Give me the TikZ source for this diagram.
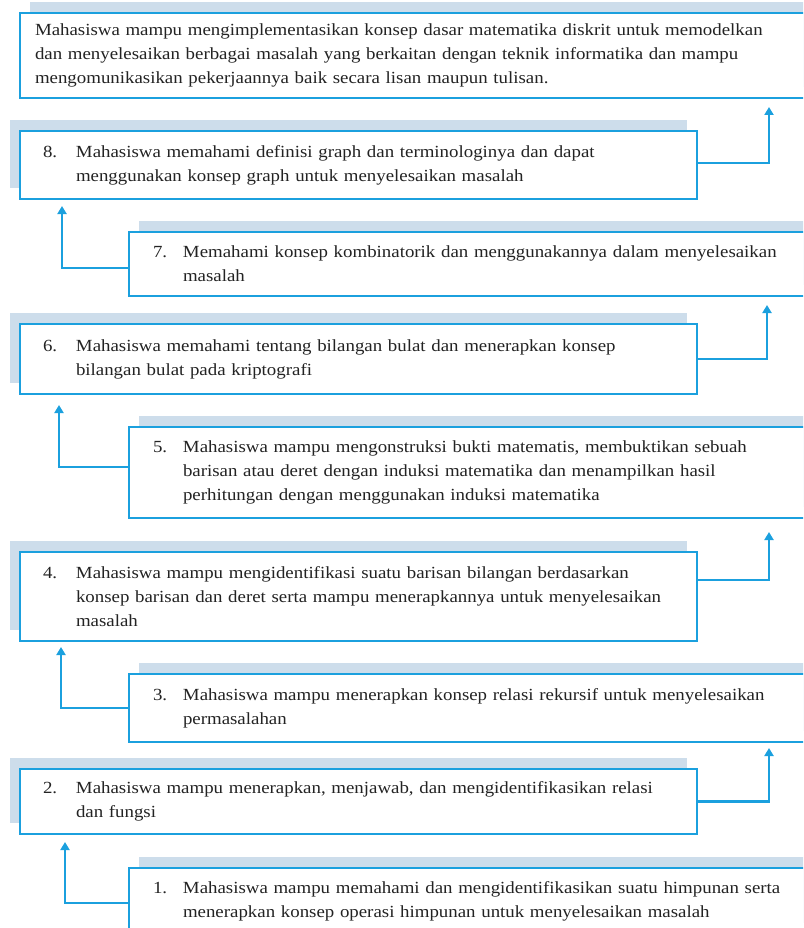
\documentclass[tikz,border=0pt]{standalone}
\usepackage{fontspec}
\setmainfont{Liberation Serif}[FakeStretch=1.11]
\usetikzlibrary{arrows.meta,shadows}
\definecolor{bordc}{RGB}{27,160,222}
\definecolor{shadc}{RGB}{205,221,235}
\definecolor{txtc}{RGB}{35,35,35}
\tikzset{
  box/.style={draw=bordc, line width=2.8pt, fill=white, anchor=north west,
    outer sep=0pt, inner ysep=0pt, align=left, text=txtc,
    font=\fontsize{17}{24}\selectfont},
  lbox/.style={box, general shadow={shadow xshift=-10pt, shadow yshift=11pt, fill=shadc},
    minimum width=677pt, text width=631pt, inner xsep=23pt},
  rbox/.style={box, general shadow={shadow xshift=10pt, shadow yshift=11pt, fill=shadc},
    minimum width=700pt, text width=652pt, inner xsep=24pt},
  tbox/.style={box, general shadow={shadow xshift=10pt, shadow yshift=11pt, fill=shadc},
    minimum width=800pt, text width=770pt, inner xsep=15pt},
  conn/.style={draw=bordc, line width=2.8pt, -{Triangle[width=9pt,length=8pt]}},
}
\newcommand{\lnum}[1]{\makebox[33pt][l]{#1}}
\newcommand{\lind}{\hspace*{33pt}}
\newcommand{\rnum}[1]{\makebox[30pt][l]{#1}}
\newcommand{\rind}{\hspace*{30pt}}
\begin{document}
\begin{tikzpicture}[x=1pt,y=-1pt]
\useasboundingbox (0,0) rectangle (803,928);
\clip (0,0) rectangle (803,928);

\node[tbox, minimum height=85pt] (T) at (20,13)
 {Mahasiswa mampu mengimplementasikan konsep dasar matematika diskrit untuk memodelkan\\
  dan menyelesaikan berbagai masalah yang berkaitan dengan teknik informatika dan mampu\\
  mengomunikasikan pekerjaannya baik secara lisan maupun tulisan.};

\node[lbox, minimum height=68pt] (b8) at (20,131)
 {\lnum{8.}Mahasiswa memahami definisi graph dan terminologinya dan dapat\\
  \lind menggunakan konsep graph untuk menyelesaikan masalah};

\node[rbox, minimum height=64pt] (b7) at (129,232)
 {\rnum{7.}Memahami konsep kombinatorik dan menggunakannya dalam menyelesaikan\\
  \rind masalah};

\node[lbox, minimum height=70pt] (b6) at (20,324)
 {\lnum{6.}Mahasiswa memahami tentang bilangan bulat dan menerapkan konsep\\
  \lind bilangan bulat pada kriptografi};

\node[rbox, minimum height=91pt] (b5) at (129,427)
 {\rnum{5.}Mahasiswa mampu mengonstruksi bukti matematis, membuktikan sebuah\\
  \rind barisan atau deret dengan induksi matematika dan menampilkan hasil\\
  \rind perhitungan dengan menggunakan induksi matematika};

\node[lbox, minimum height=89pt] (b4) at (20,552)
 {\lnum{4.}Mahasiswa mampu mengidentifikasi suatu barisan bilangan berdasarkan\\
  \lind konsep barisan dan deret serta mampu menerapkannya untuk menyelesaikan\\
  \lind masalah};

\node[rbox, minimum height=68pt] (b3) at (129,674)
 {\rnum{3.}Mahasiswa mampu menerapkan konsep relasi rekursif untuk menyelesaikan\\
  \rind permasalahan};

\node[lbox, minimum height=65pt] (b2) at (20,769)
 {\lnum{2.}Mahasiswa mampu menerapkan, menjawab, dan mengidentifikasikan relasi\\
  \lind dan fungsi};

\node[rbox, minimum height=66pt] (b1) at (129,868)
 {\rnum{1.}Mahasiswa mampu memahami dan mengidentifikasikan suatu himpunan serta\\
  \rind menerapkan konsep operasi himpunan untuk menyelesaikan masalah};

\draw[conn] ([yshift=2pt]b8.east) -| ([xshift=749pt,yshift=-9pt]T.south west);
\draw[conn] ([yshift=-4pt]b7.west) -| ([xshift=42pt,yshift=-7pt]b8.south west);
\draw[conn] (b6.east) -| ([xshift=638pt,yshift=-9pt]b7.south west);
\draw[conn] ([yshift=5.5pt]b5.west) -| ([xshift=39pt,yshift=-11pt]b6.south west);
\draw[conn] ([yshift=16.5pt]b4.east) -| ([xshift=640pt,yshift=-14pt]b5.south west);
\draw[conn] (b3.west) -| ([xshift=41pt,yshift=-6pt]b4.south west);
\draw[conn] (b2.east) -| ([xshift=640pt,yshift=-6pt]b3.south west);
\draw[conn] ([yshift=-2pt]b1.west) -| ([xshift=45pt,yshift=-8pt]b2.south west);
\end{tikzpicture}
\end{document}
